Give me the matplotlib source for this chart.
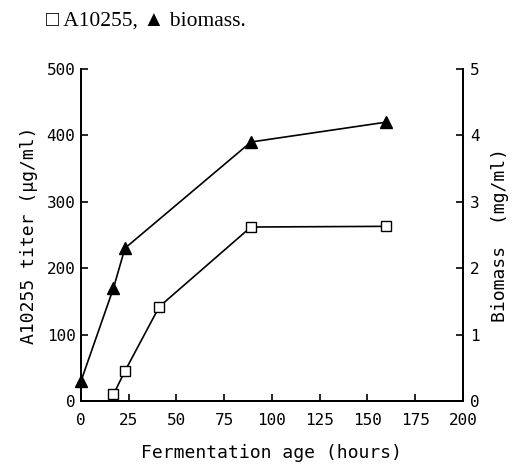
import matplotlib.pyplot as plt

# A10255 titer (left axis, ug/ml)
titer_hours = [17, 23, 41, 89, 160]
titer = [10, 45, 142, 262, 263]

# biomass (right axis, mg/ml)
bio_hours = [0, 17, 23, 89, 160]
biomass = [0.3, 1.7, 2.3, 3.9, 4.2]

x_ticks = [0, 25, 50, 75, 100, 125, 150, 175, 200]
left_ticks = [0, 100, 200, 300, 400, 500]
right_ticks = [0, 1, 2, 3, 4, 5]

mono = "DejaVu Sans Mono"

fig = plt.figure(figsize=(5.16, 4.66), dpi=100)
ax = fig.add_axes([0.157, 0.1395, 0.74, 0.7125])
ax2 = ax.twinx()

ax.plot(titer_hours, titer, color="black", lw=1.2, marker="s",
        markersize=6.5, markerfacecolor="white", markeredgecolor="black",
        markeredgewidth=1.0, clip_on=False, zorder=3)
ax2.plot(bio_hours, biomass, color="black", lw=1.2, marker="^",
         markersize=8, markerfacecolor="black", markeredgecolor="black",
         clip_on=False, zorder=3)

ax.set_xlim(0, 200)
ax.set_ylim(0, 500)
ax2.set_ylim(0, 5)
ax.set_xticks(x_ticks)
ax.set_yticks(left_ticks)
ax2.set_yticks(right_ticks)

for a in (ax, ax2):
    a.spines["top"].set_visible(False)
    for s in a.spines.values():
        s.set_linewidth(1.3)

ax.tick_params(axis="x", direction="in", length=5, width=1.2, pad=9)
ax.tick_params(axis="y", direction="in", length=5, width=1.2, pad=4)
ax2.tick_params(axis="y", direction="in", length=5, width=1.2, pad=5)
for lab in ax.get_xticklabels() + ax.get_yticklabels() + ax2.get_yticklabels():
    lab.set_fontfamily(mono)
    lab.set_fontsize(11.5)

ax.set_xlabel("Fermentation age (hours)", fontsize=13, family=mono,
              labelpad=11)
ax.set_ylabel("A10255 titer (\u00b5g/ml)", fontsize=13, family=mono,
              labelpad=6)
ax2.set_ylabel("Biomass  (mg/ml)", fontsize=13, family=mono, labelpad=8)

fig.text(0.09, 0.955, "\u25a1 A10255, \u25b2 biomass.", fontsize=15.5,
         family="Liberation Serif", va="center", ha="left")

fig.savefig("out.png", dpi=100)
